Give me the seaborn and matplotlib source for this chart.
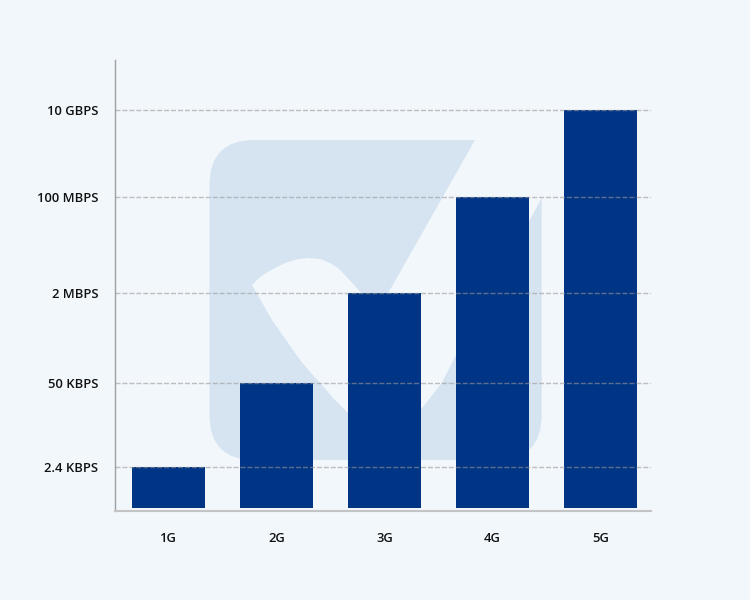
import matplotlib
matplotlib.use("Agg")
import matplotlib.pyplot as plt
import matplotlib.transforms as mtransforms
from matplotlib.patches import FancyBboxPatch, Polygon
import seaborn as sns
import pandas as pd

# ---- data ----
generations = ["1G", "2G", "3G", "4G", "5G"]
speed_labels = ["2.4 KBPS", "50 KBPS", "2 MBPS", "100 MBPS", "10 GBPS"]
# vertical level of each speed on the chart's (non-uniform) speed axis
speed_levels = [41, 125.5, 215, 311.5, 398.3]

BG = "#f2f7fb"
BAR = "#003585"
MARK = "#d6e4f1"

sns.set_theme(style="white")
plt.rcParams["font.family"] = ["Open Sans", "DejaVu Sans"]

fig = plt.figure(figsize=(7.5, 6), dpi=100, facecolor=BG)
ax = fig.add_axes([114.5 / 750, 89.5 / 600, 536.5 / 750, 450.5 / 600])
ax.set_facecolor("none")

df = pd.DataFrame({"generation": generations, "level": speed_levels})

# ---- decorative watermark (pixel coords, y downwards) ----
px = mtransforms.Affine2D().scale(1 / 750, -1 / 600).translate(0, 1) + fig.transFigure
square = FancyBboxPatch((209.5, 140), 332.2, 320,
                        boxstyle="round,pad=0,rounding_size=45",
                        transform=px, facecolor=MARK, edgecolor="none",
                        zorder=0.5, clip_on=False)
ax.add_patch(square)
check_pts = [(252, 285), (258, 279), (266, 273), (275, 268), (285, 263), (296, 259.5),
             (308, 258), (320, 259), (330, 263), (338, 268), (344, 274),
             (378, 311), (475, 140), (486, 120), (587, 120), (541.7, 198),
             (455, 357), (441.7, 383), (423, 407), (405, 418), (385, 421),
             (365, 420), (350, 415), (334, 399), (322, 385), (311, 373),
             (300, 360), (286, 340), (272, 320), (260, 299)]
check = Polygon(check_pts, closed=True, transform=px, facecolor=BG,
                edgecolor="none", zorder=0.6, clip_on=False)
ax.add_patch(check)

# ---- bars ----
sns.barplot(data=df, x="generation", y="level", color=BAR, saturation=1,
            width=0.676, ax=ax, zorder=2, edgecolor="none")

ax.set_xlim(-0.5, 4.468)
ax.set_ylim(-2.2, 448.3)
ax.set_yticks(speed_levels)
ax.set_yticklabels(speed_labels)
ax.set_xlabel("")
ax.set_ylabel("")

for y in speed_levels:
    ax.axhline(y, color="#999999", alpha=0.6, lw=1, linestyle=(0, (3.6, 1.4)), zorder=3)

for s in ["top", "right"]:
    ax.spines[s].set_visible(False)
ax.spines["left"].set_color("#a0a0a0")
ax.spines["left"].set_linewidth(1)
ax.spines["bottom"].set_color("#c4c4c4")
ax.spines["bottom"].set_linewidth(1.5)

ax.tick_params(axis="y", length=0, pad=11.5, labelsize=9.4, labelcolor="#111111")
ax.tick_params(axis="x", length=0, pad=15.5, labelsize=9.4, labelcolor="#111111")
for lab in ax.get_xticklabels() + ax.get_yticklabels():
    lab.set_fontweight("semibold")

fig.savefig("out.png", dpi=100, facecolor=BG)
